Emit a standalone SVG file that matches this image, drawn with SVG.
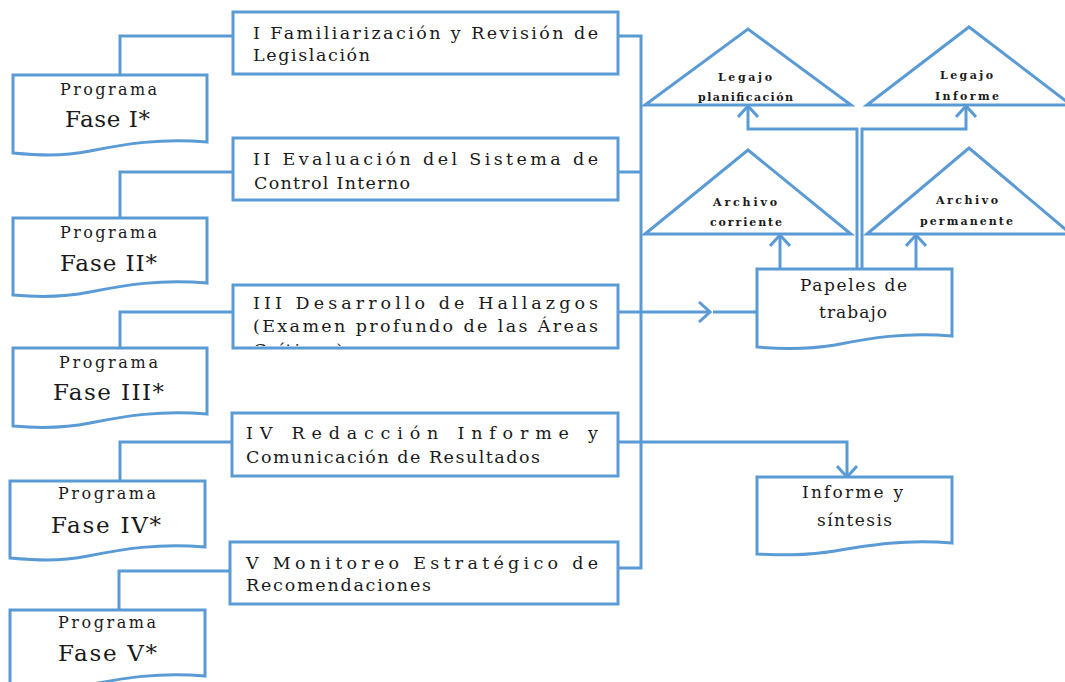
<svg xmlns="http://www.w3.org/2000/svg" width="1065" height="682" viewBox="0 0 1065 682">
<style>
.s{fill:#fff;stroke:#5B9BD5;stroke-width:3}
.c{fill:none;stroke:#5B9BD5;stroke-width:3}
text{font-family:'DejaVu Serif','Liberation Serif',serif;fill:#1a1a1a}
.t{font-size:17.5px}
.p{font-size:16px}
.f{font-size:23px}
.g{font-size:11px;font-weight:bold}
.d{font-size:17px}
</style>
<defs>
<marker id="a" viewBox="0 0 14 22" refX="12" refY="11" markerWidth="14" markerHeight="22" markerUnits="userSpaceOnUse" orient="auto">
<path d="M1,1 L12,11 L1,21" fill="none" stroke="#5B9BD5" stroke-width="3"/>
</marker>
<clipPath id="clip3"><rect x="235" y="286" width="382" height="60"/></clipPath>
</defs>
<g id="connectors">
<path class="c" d="M120,75 V36 H233"/>
<path class="c" d="M120,218 V172 H233"/>
<path class="c" d="M120,348 V312 H233"/>
<path class="c" d="M120,481 V442 H233"/>
<path class="c" d="M119,610 V571 H230"/>
<path class="c" d="M618,36 H641 V568 H618"/>
<path class="c" d="M618,172 H641"/>
<path class="c" d="M618,312 H710" marker-end="url(#a)"/>
<path class="c" d="M713,312 H757"/>
<path class="c" d="M618,442 H847 V477" marker-end="url(#a)"/>
<path class="c" d="M780,269 V235" marker-end="url(#a)"/>
<path class="c" d="M916,269 V235" marker-end="url(#a)"/>
<path class="c" d="M857,269 V129 H748 V106" marker-end="url(#a)"/>
<path class="c" d="M862,269 V129 H966 V106" marker-end="url(#a)"/>
</g>
<g id="box1">
<rect class="s" x="233" y="12" width="385" height="62"/>
<text class="t" x="253" y="39" textLength="345" lengthAdjust="spacing">I Familiarización y Revisión de</text>
<text class="t" x="253" y="61" textLength="117" lengthAdjust="spacing">Legislación</text>
</g>
<g id="box2">
<rect class="s" x="233" y="138" width="385" height="62"/>
<text class="t" x="253" y="165" textLength="345" lengthAdjust="spacing">II Evaluación del Sistema de</text>
<text class="t" x="254" y="189" textLength="156" lengthAdjust="spacing">Control Interno</text>
</g>
<g id="box3">
<rect class="s" x="233" y="285" width="385" height="63"/>
<text class="t" x="253" y="309" textLength="345" lengthAdjust="spacing">III Desarrollo de Hallazgos</text>
<text class="t" x="253" y="332" textLength="345" lengthAdjust="spacing">(Examen profundo de las Áreas</text>
<text class="t" x="253" y="356" textLength="90" lengthAdjust="spacing" clip-path="url(#clip3)">Críticas)</text>
</g>
<g id="box4">
<rect class="s" x="232" y="413" width="386" height="63"/>
<text class="t" x="246" y="439" textLength="352" lengthAdjust="spacing">IV Redacción Informe y</text>
<text class="t" x="246" y="463" textLength="294" lengthAdjust="spacing">Comunicación de Resultados</text>
</g>
<g id="box5">
<rect class="s" x="230" y="542" width="388" height="62"/>
<text class="t" x="246" y="569" textLength="352" lengthAdjust="spacing">V Monitoreo Estratégico de</text>
<text class="t" x="246" y="591" textLength="185" lengthAdjust="spacing">Recomendaciones</text>
</g>
<g id="prog1">
<path class="s" d="M13,75 H207 V142 C160,138 125,144 90,151 C60,157 35,155 13,153 Z"/>
<text class="p" x="60" y="95" textLength="97" lengthAdjust="spacing">Programa</text>
<text class="f" x="65" y="127" textLength="85" lengthAdjust="spacing">Fase I*</text>
</g>
<g id="prog2">
<path class="s" d="M13,218 H207 V283 C160,279 125,285 90,292 C60,298 35,297 13,295 Z"/>
<text class="p" x="60" y="238" textLength="97" lengthAdjust="spacing">Programa</text>
<text class="f" x="60" y="271" textLength="97" lengthAdjust="spacing">Fase II*</text>
</g>
<g id="prog3">
<path class="s" d="M13,348 H207 V414 C160,410 125,416 90,423 C60,429 35,428 13,426 Z"/>
<text class="p" x="59" y="368" textLength="99" lengthAdjust="spacing">Programa</text>
<text class="f" x="53" y="400" textLength="111" lengthAdjust="spacing">Fase III*</text>
</g>
<g id="prog4">
<path class="s" d="M10,481 H205 V547 C158,543 123,549 88,556 C58,562 33,560 10,558 Z"/>
<text class="p" x="58" y="499" textLength="98" lengthAdjust="spacing">Programa</text>
<text class="f" x="51" y="533" textLength="110" lengthAdjust="spacing">Fase IV*</text>
</g>
<g id="prog5">
<path class="s" d="M10,610 H205 V676 C158,672 123,678 88,685 C58,691 33,689 10,687 Z"/>
<text class="p" x="58" y="628" textLength="98" lengthAdjust="spacing">Programa</text>
<text class="f" x="58" y="661" textLength="99" lengthAdjust="spacing">Fase V*</text>
</g>
<g id="legajo-planificacion">
<path class="s" d="M645,105 L748,29 L851,105 Z"/>
<text class="g" x="718" y="81" textLength="54" lengthAdjust="spacing">Legajo</text>
<text class="g" x="698" y="101" textLength="95" lengthAdjust="spacing">planificación</text>
</g>
<g id="legajo-informe">
<path class="s" d="M867,105 L969,27 L1071,105 Z"/>
<text class="g" x="940" y="79" textLength="53" lengthAdjust="spacing">Legajo</text>
<text class="g" x="935" y="100" textLength="64" lengthAdjust="spacing">Informe</text>
</g>
<g id="archivo-corriente">
<path class="s" d="M645,234 L748,150 L851,234 Z"/>
<text class="g" x="713" y="206" textLength="64" lengthAdjust="spacing">Archivo</text>
<text class="g" x="710" y="226" textLength="72" lengthAdjust="spacing">corriente</text>
</g>
<g id="archivo-permanente">
<path class="s" d="M867,234 L969,148 L1071,234 Z"/>
<text class="g" x="936" y="204" textLength="62" lengthAdjust="spacing">Archivo</text>
<text class="g" x="920" y="225" textLength="93" lengthAdjust="spacing">permanente</text>
</g>
<g id="papeles">
<path class="s" d="M757,269 H952 V336 C905,332 870,338 835,345 C805,350 780,349 757,347 Z"/>
<text class="d" x="800" y="291" textLength="107" lengthAdjust="spacing">Papeles de</text>
<text class="d" x="819" y="318" textLength="68" lengthAdjust="spacing">trabajo</text>
</g>
<g id="informe">
<path class="s" d="M757,477 H952 V543 C905,539 870,545 835,551 C805,556 780,555 757,554 Z"/>
<text class="d" x="802" y="498" textLength="101" lengthAdjust="spacing">Informe y</text>
<text class="d" x="817" y="526" textLength="75" lengthAdjust="spacing">síntesis</text>
</g>
</svg>
